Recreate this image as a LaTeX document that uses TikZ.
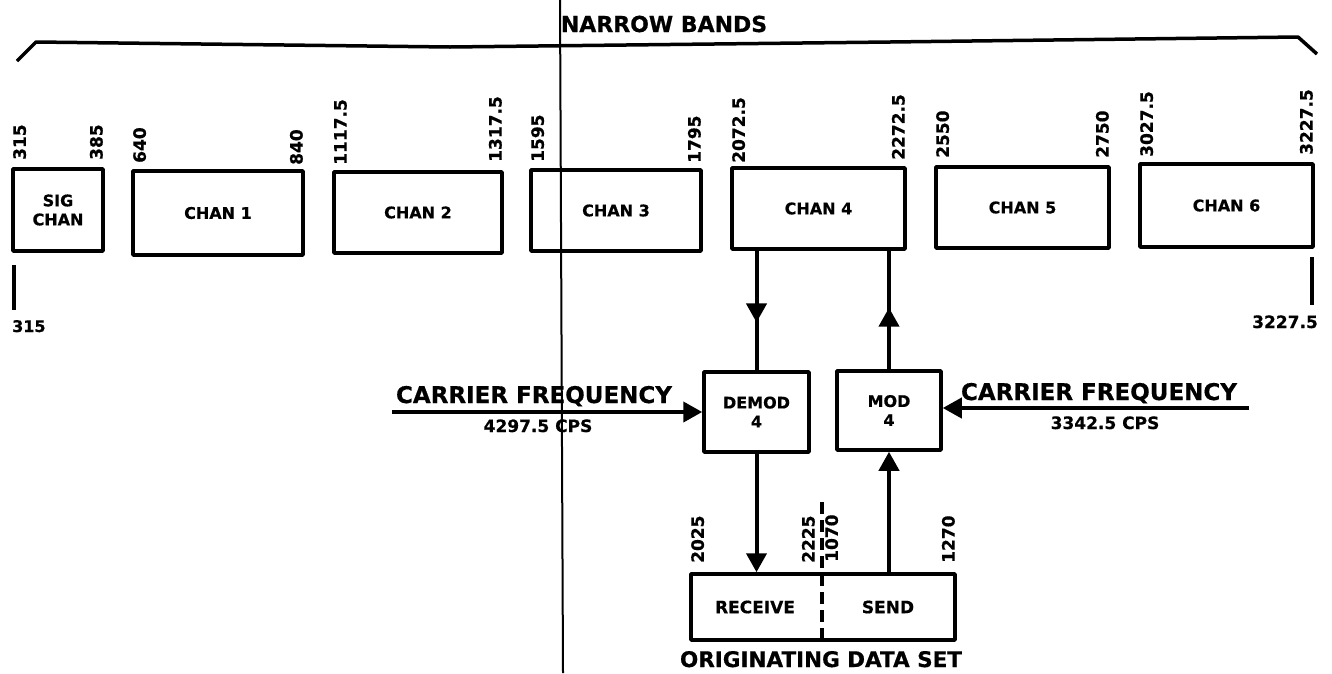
\documentclass[tikz,border=0pt]{standalone}
\usepackage{fontspec}
\setmainfont{DejaVu Sans}[BoldFeatures={FakeBold=0.6}]
\usetikzlibrary{arrows.meta,decorations.markings}
\begin{document}
\begin{tikzpicture}[x=1pt,y=-1pt, line join=round,
  box/.style={draw, line width=3.5pt, inner sep=0pt, font=\bfseries\fontsize{16}{19}\selectfont, align=center},
  boxtxt/.style={inner sep=0pt, font=\bfseries\fontsize{16}{19}\selectfont, align=center},
  num/.style={font=\bfseries\fontsize{17}{17}\selectfont, inner sep=0pt, rotate=90},
  lab/.style={font=\bfseries\fontsize{23}{23}\selectfont, inner sep=0pt, anchor=base},
  small/.style={font=\bfseries\fontsize{17}{17}\selectfont, inner sep=0pt, anchor=base},
  conn/.style={line width=4pt},
  tip/.style={-{Triangle[length=19pt,width=20pt]}},
  midarrow/.style={postaction={decorate}, decoration={markings, mark=at position #1 with {\arrow{Triangle[length=19pt,width=20pt]}}}},
  thick3/.style={line width=3.5pt},
]
\useasboundingbox (0,0) rectangle (1332,673);

% scan line
\draw[line width=2pt] (560,0) -- (563,673);

% brace
\draw[thick3] (17,61) -- (36,42) -- (450,47) -- (890,42) -- (1298,37) -- (1317,54);
\node[lab, font=\bfseries\fontsize{22}{22}\selectfont] (nb) at (664,32) {NARROW BANDS};

% channel boxes
\node[box, minimum width=90pt, minimum height=82pt] (sig) at (58,210) {SIG\\CHAN};
\node[box, minimum width=170pt, minimum height=84pt] (c1) at (218,213) {CHAN 1};
\node[box, minimum width=168pt, minimum height=81pt] (c2) at (418,212.5) {CHAN 2};
\node[box, minimum width=170pt, minimum height=81pt] (c3) at (616,210.5) {CHAN 3};
\node[box, minimum width=173pt, minimum height=81pt] (c4) at (818.5,208.5) {CHAN 4};
\node[box, minimum width=173pt, minimum height=81pt] (c5) at (1022.5,207.5) {CHAN 5};
\node[box, minimum width=173pt, minimum height=83pt] (c6) at (1226.5,205.5) {CHAN 6};

% frequency labels
\node[num, anchor=north west] (f1) at (13,160) {315};
\node[num, anchor=south west] (f2) at (103,160) {385};
\node[num, anchor=north west] (f3) at (133,163) {640};
\node[num, anchor=south west] (f4) at (303,165) {840};
\node[num, anchor=north west] (f5) at (334,165) {1117.5};
\node[num, anchor=south west] (f6) at (502,162) {1317.5};
\node[num, anchor=north west] (f7) at (531,162) {1595};
\node[num, anchor=south west] (f8) at (701,163) {1795};
\node[num, anchor=north west] (f9) at (732,163) {2072.5};
\node[num, anchor=south west] (f10) at (905,160) {2272.5};
\node[num, anchor=north west] (f11) at (936,158) {2550};
\node[num, anchor=south west] (f12) at (1109,158) {2750};
\node[num, anchor=north west] (f13) at (1140,157) {3027.5};
\node[num, anchor=south west] (f14) at (1313,155) {3227.5};

% end ticks
\coordinate (tl) at (14,265);
\draw[thick3] (tl) -- (14,310);
\node[small, anchor=base west, font=\bfseries\fontsize{16}{16}\selectfont] (t1) at (12,332) {315};
\coordinate (tr) at (1312,257);
\draw[thick3] (tr) -- (1312,305);
\node[small, anchor=base east] (t2) at (1318,328) {3227.5};

% modulators
\node[box, minimum width=105pt, minimum height=80pt] (demod) at (756.5,412) {DEMOD\\4};
\node[box, minimum width=104pt, minimum height=79pt] (mod) at (889,410.5) {MOD\\4};

% data set
\node[box, minimum width=264pt, minimum height=66pt] (ods) at (823,607) {};
\node[boxtxt, font=\bfseries\fontsize{17}{17}\selectfont] (rcv) at (755,607) {RECEIVE};
\node[boxtxt, font=\bfseries\fontsize{17}{17}\selectfont] (snd) at (888,607) {SEND};
\coordinate (dv) at (822,502);
\draw[thick3, dash pattern=on 12pt off 6pt] (dv) -- (dv |- ods.south);
\node[num, anchor=north west] (g1) at (691,563) {2025};
\node[num, anchor=south west] (g2) at (815,563) {2225};
\node[num, anchor=north west] (g3) at (825,562) {1070};
\node[num, anchor=south west] (g4) at (955,563) {1270};
\node[lab, font=\bfseries\fontsize{21.5}{21.5}\selectfont] (odsl) at (821,667) {ORIGINATING DATA SET};

% connectors
\draw[conn, midarrow=0.6] (c4.south -| demod.north) -- (demod.north);
\draw[conn, midarrow=0.52] (mod.north) -- (mod.north |- c4.south);
\draw[conn, tip] (demod.south) -- (demod.south |- ods.north);
\draw[conn, tip] (ods.north -| mod.south) -- (mod.south);

% carriers
\coordinate (lc) at (392,412);
\draw[conn, tip] (lc) -- (lc -| demod.west);
\node[lab] (cfl) at (534,403) {CARRIER FREQUENCY};
\node[small] (cpl) at (538,432) {4297.5 CPS};
\coordinate (rc) at (1249,408);
\draw[conn, tip] (rc) -- (rc -| mod.east);
\node[lab] (cfr) at (1099,400) {CARRIER FREQUENCY};
\node[small] (cpr) at (1105,429) {3342.5 CPS};
\end{tikzpicture}
\end{document}
